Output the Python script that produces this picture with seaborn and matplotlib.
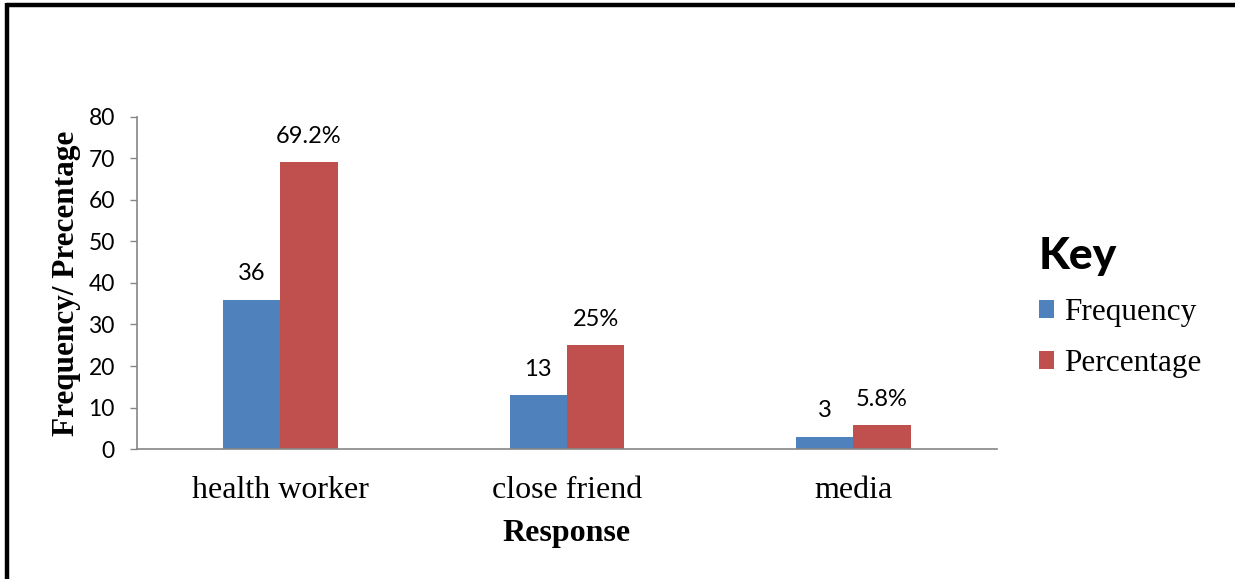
import matplotlib
matplotlib.use("Agg")
import matplotlib.pyplot as plt
from matplotlib.patches import Patch
from matplotlib.lines import Line2D
import pandas as pd
import seaborn as sns

# Data
categories = ["health worker", "close friend", "media"]
frequency = [36, 13, 3]
percentage = [69.2, 25, 5.8]
frequency_labels = ["36", "13", "3"]
percentage_labels = ["69.2%", "25%", "5.8%"]
series_names = ["Frequency", "Percentage"]
y_ticks = [0, 10, 20, 30, 40, 50, 60, 70, 80]

df = pd.DataFrame({
    "Response": categories * 2,
    "Value": frequency + percentage,
    "Series": [series_names[0]] * len(categories) + [series_names[1]] * len(categories),
})

sns.set_style("white")
plt.rcParams["font.family"] = ["Liberation Serif", "DejaVu Serif"]
plt.rcParams["text.color"] = "black"
plt.rcParams["axes.labelcolor"] = "black"
plt.rcParams["xtick.color"] = "black"
plt.rcParams["ytick.color"] = "black"

colors = {"Frequency": "#4F81BD", "Percentage": "#C0504D"}
axis_grey = "#868686"
sans = ["Lato", "DejaVu Sans"]

fig = plt.figure(figsize=(12.35, 5.79), dpi=100)
ax = fig.add_axes([0.111, 0.2245, 0.696, 0.5735])

sns.barplot(data=df, x="Response", y="Value", hue="Series", order=categories,
            hue_order=series_names, palette=colors, width=0.4, gap=0,
            linewidth=0, saturation=1, legend=False, ax=ax)

for cont, labs in zip(ax.containers, [frequency_labels, percentage_labels]):
    ax.bar_label(cont, labels=labs, padding=11, fontsize=17, family=sans, color="black")

ax.set_xlim(-0.5, 2.5)
ax.set_ylim(0, 80)
ax.set_yticks(y_ticks)
ax.set_yticklabels([str(t) for t in y_ticks], family=sans, fontsize=16.5)
ax.tick_params(axis="y", which="major", left=True, length=5, width=1, color=axis_grey,
               labelcolor="black", pad=11)
ax.tick_params(axis="x", bottom=False, labelsize=23, labelcolor="black", pad=16)

for side in ["top", "right"]:
    ax.spines[side].set_visible(False)
for side in ["left", "bottom"]:
    ax.spines[side].set_color(axis_grey)
    ax.spines[side].set_linewidth(1.2)

ax.set_xlabel("Response", fontsize=23, fontweight="bold", labelpad=10, color="black")
ax.set_ylabel("Frequency/ Precentage", fontsize=22.5, fontweight="bold", labelpad=5,
              color="black")

handles = [Patch(facecolor=colors[s], edgecolor="none", label=s) for s in series_names]
leg = fig.legend(handles=handles, loc="center left", bbox_to_anchor=(0.831, 0.47),
                 frameon=False, fontsize=22.5, title="Key", alignment="left",
                 handlelength=0.5, handleheight=0.5, handletextpad=0.3,
                 labelspacing=0.7, borderaxespad=0)
title = leg.get_title()
title.set_fontfamily(sans)
title.set_fontweight("black")
title.set_fontsize(32)
title.set_color("black")
title.set_x(0)
for t in leg.get_texts():
    t.set_color("black")

# Frame lines along the top and left edges of the figure
fig.add_artist(Line2D([0.0045, 1.0], [0.9915, 0.9915], transform=fig.transFigure,
                      color="black", linewidth=3.2, solid_capstyle="butt"))
fig.add_artist(Line2D([0.0058, 0.0058], [0.0, 0.9945], transform=fig.transFigure,
                      color="black", linewidth=3.2, solid_capstyle="butt"))

fig.savefig("out.png", dpi=100, facecolor="white")
